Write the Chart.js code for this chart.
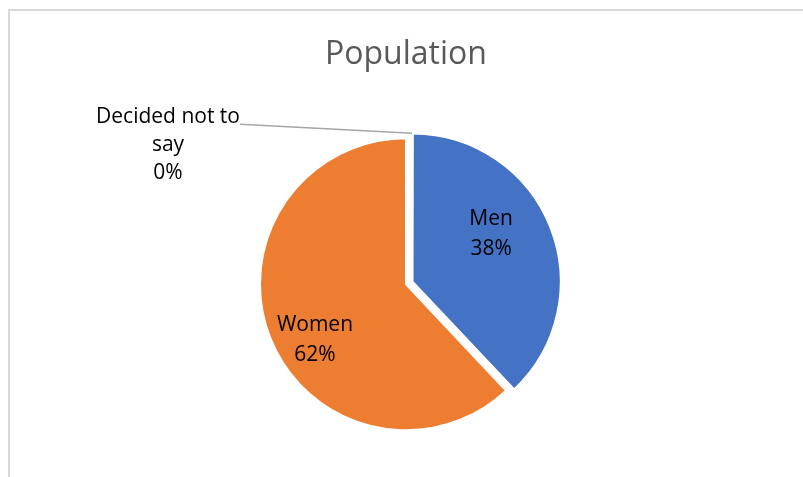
<!DOCTYPE html>
<html>
<head>
<meta charset="utf-8">
<script src="https://cdn.jsdelivr.net/npm/chart.js@4.4.0/dist/chart.umd.min.js"></script>
<style>
    body { margin: 0; background: #fff; overflow: hidden; }
    #frame {
        position: absolute; left: 8px; top: 9px; width: 900px; height: 600px;
        border-top: 2px solid #d9d9d9; border-left: 2px solid #d9d9d9;
    }
    #wrap { position: absolute; left: 0; top: 0; width: 803px; height: 477px; }
</style>
</head>
<body>
<div id="frame"></div>
<div id="wrap"><canvas id="popChart" width="803" height="477"></canvas></div>
<script>
const categories = ["Men", "Women", "Decided not to say"];
const shares = [38, 62, 0];
const sliceColors = ["#4472C4", "#ED7D31", "#A5A5A5"];
const explode = [28, 0, 0]; // chart.js moves an arc by offset / 4

const FONT = "'Open Sans', sans-serif";
const LABEL_RADIUS = [0.63, 0.73, 1];
const LABEL_TURN = -0.17; // excel nudges labels a bit anticlockwise

// Excel style data labels: inside for real slices, callout for the empty one
const sliceLabels = {
    id: "sliceLabels",
    afterDatasetsDraw(chart) {
        const ctx = chart.ctx;
        const meta = chart.getDatasetMeta(0);
        ctx.save();
        ctx.fillStyle = "#000";
        ctx.font = "21px " + FONT;
        ctx.textAlign = "center";
        ctx.textBaseline = "middle";

        meta.data.forEach((arc, i) => {
            const p = arc.getProps(["x", "y", "startAngle", "endAngle", "outerRadius"], true);
            const mid = (p.startAngle + p.endAngle) / 2;
            const shift = (arc.options.offset || 0) / 4;
            const pct = shares[i] + "%";

            if (shares[i] > 0) {
                const cx = p.x + Math.cos(mid) * shift;
                const cy = p.y + Math.sin(mid) * shift;
                const r = p.outerRadius * LABEL_RADIUS[i];
                const lx = cx + Math.cos(mid + LABEL_TURN) * r;
                const ly = cy + Math.sin(mid + LABEL_TURN) * r;
                ctx.fillText(categories[i], lx, ly - 15);
                ctx.fillText(pct, lx, ly + 15);
            } else {
                const ox = p.x + Math.cos(mid) * p.outerRadius;
                const oy = p.y + Math.sin(mid) * p.outerRadius;
                ctx.strokeStyle = "#a6a6a6";
                ctx.lineWidth = 1.5;
                ctx.beginPath();
                ctx.moveTo(ox + 6, oy - 5);
                ctx.lineTo(ox - 166, oy - 14);
                ctx.stroke();
                const lx = ox - 238, ly = oy - 21;
                ctx.fillText("Decided not to", lx, ly);
                ctx.fillText("say", lx, ly + 28);
                ctx.fillText(pct, lx, ly + 56);
            }
        });
        ctx.restore();
    }
};

new Chart(document.getElementById("popChart"), {
    type: "pie",
    data: {
        labels: categories,
        datasets: [{
            data: shares,
            backgroundColor: sliceColors,
            borderColor: "#ffffff",
            borderWidth: 2,
            offset: explode
        }]
    },
    options: {
        responsive: false,
        animation: false,
        radius: 146,
        layout: { padding: { left: 9, right: 0, top: 0, bottom: 0 } },
        plugins: {
            legend: { display: false },
            tooltip: { enabled: false },
            title: {
                display: true,
                text: "Population",
                color: "#595959",
                font: { family: FONT, size: 32, weight: "normal" },
                padding: { top: 36, bottom: 17 }
            }
        }
    },
    plugins: [sliceLabels]
});
</script>
</body>
</html>
